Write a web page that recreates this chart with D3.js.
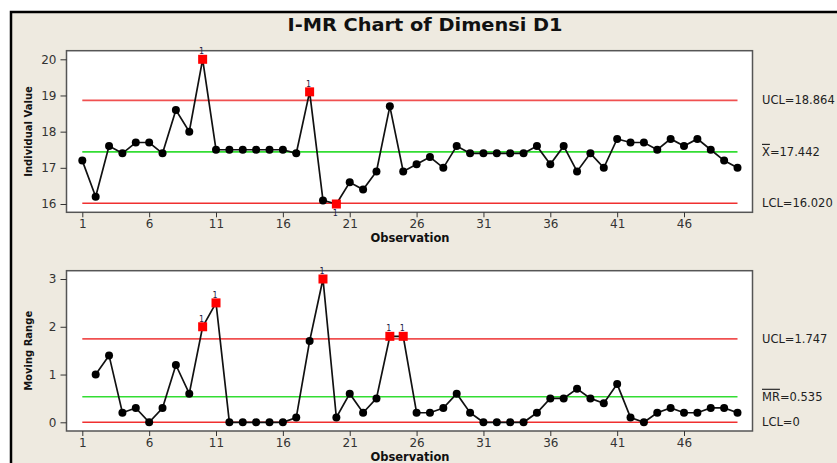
<!DOCTYPE html>
<html><head><meta charset="utf-8">
<script src="https://cdn.jsdelivr.net/npm/d3@7"></script>
<style>
html,body{margin:0;padding:0;background:#fff;}
svg{display:block;}
</style></head>
<body>
<script>
const observations = d3.range(1, 51);
const individualValues = [17.2,16.2,17.6,17.4,17.7,17.7,17.4,18.6,18.0,20.0,
  17.5,17.5,17.5,17.5,17.5,17.5,17.4,19.1,16.1,16.0,
  16.6,16.4,16.9,18.7,16.9,17.1,17.3,17.0,17.6,17.4,
  17.4,17.4,17.4,17.4,17.6,17.1,17.6,16.9,17.4,17.0,
  17.8,17.7,17.7,17.5,17.8,17.6,17.8,17.5,17.2,17.0];
const movingRanges = [null,1.0,1.4,0.2,0.3,0.0,0.3,1.2,0.6,2.0,
  2.5,0.0,0.0,0.0,0.0,0.0,0.1,1.7,3.0,0.1,
  0.6,0.2,0.5,1.8,1.8,0.2,0.2,0.3,0.6,0.2,
  0.0,0.0,0.0,0.0,0.2,0.5,0.5,0.7,0.5,0.4,
  0.8,0.1,0.0,0.2,0.3,0.2,0.2,0.3,0.3,0.2];
const iLimits = {ucl:18.864, center:17.442, lcl:16.020};
const mrLimits = {ucl:1.747, center:0.535, lcl:0};
const iFlagged = [10, 18, 20];
const iFlagBelow = [20];
const mrFlagged = [10, 11, 19, 24, 25];
const xTicks = [1,6,11,16,21,26,31,36,41,46];
const iTicks = [16,17,18,19,20];
const mrTicks = [0,1,2,3];

const W = 837, H = 463;
const svg = d3.select("body").append("svg").attr("width", W).attr("height", H);
const font = "Tahoma, 'DejaVu Sans', Verdana, sans-serif";

svg.append("rect").attr("x",0).attr("y",0).attr("width",W).attr("height",H).attr("fill","#ffffff");
svg.append("rect").attr("x",11).attr("y",12).attr("width",W).attr("height",H).attr("fill","#EEEAE0")
  .attr("stroke","#000").attr("stroke-width",2.5);

svg.append("text").attr("x",425).attr("y",31).attr("text-anchor","middle")
  .attr("font-family","'DejaVu Sans', sans-serif").attr("font-weight","bold").attr("font-size",18)
  .attr("textLength",275).attr("lengthAdjust","spacingAndGlyphs")
  .attr("fill","#111").text("I-MR Chart of Dimensi D1");

const x = d3.scaleLinear().domain([1,50]).range([82.3,737.5]);

function panel(cfg){
  const g = svg.append("g");
  const y = d3.scaleLinear().domain(cfg.domain).range(cfg.range);
  g.append("rect").attr("x",66.5).attr("y",cfg.top).attr("width",686).attr("height",cfg.bottom-cfg.top)
    .attr("fill","#fff").attr("stroke","#555").attr("stroke-width",1.5);
  const ya = g.append("g").attr("transform","translate(66.5,0)")
    .call(d3.axisLeft(y).tickValues(cfg.ticks).tickSize(6).tickPadding(4).tickFormat(d3.format("d")));
  ya.select(".domain").remove();
  ya.selectAll("line").attr("stroke","#333");
  ya.selectAll("text").attr("font-family",font).attr("font-size",12).attr("fill","#333");
  const xa = g.append("g").attr("transform",`translate(0,${cfg.bottom})`)
    .call(d3.axisBottom(x).tickValues(xTicks).tickSize(5).tickPadding(2).tickFormat(d3.format("d")));
  xa.select(".domain").remove();
  xa.selectAll("line").attr("stroke","#333");
  xa.selectAll("text").attr("font-family",font).attr("font-size",12).attr("fill","#333");
  g.append("text").attr("x",410).attr("y",cfg.bottom+30).attr("text-anchor","middle")
    .attr("font-family","'DejaVu Sans', sans-serif").attr("font-weight","bold").attr("font-size",11.5)
    .attr("fill","#111").text("Observation");
  g.append("text").attr("transform",`translate(32,${(cfg.top+cfg.bottom)/2}) rotate(-90)`)
    .attr("text-anchor","middle").attr("font-family","'DejaVu Sans', sans-serif").attr("font-weight","bold")
    .attr("font-size",10).attr("fill","#111").text(cfg.ylabel);
  const L = cfg.limits;
  [[L.ucl,"#F05050"],[L.center,"#33DD33"],[L.lcl,"#F03030"]].forEach(([v,c])=>{
    g.append("line").attr("x1",x(1)).attr("x2",x(50)).attr("y1",y(v)).attr("y2",y(v))
      .attr("stroke",c).attr("stroke-width",1.6);
  });
  const pts = observations.map((o,i)=>({o, v:cfg.values[i]})).filter(d=>d.v!==null);
  g.append("path").datum(pts).attr("fill","none").attr("stroke","#111").attr("stroke-width",1.7)
    .attr("d", d3.line().x(d=>x(d.o)).y(d=>y(d.v)));
  const normal = pts.filter(d=>!cfg.flagged.includes(d.o));
  g.selectAll("circle.pt").data(normal).enter().append("circle")
    .attr("cx",d=>x(d.o)).attr("cy",d=>y(d.v)).attr("r",4).attr("fill","#000");
  const flag = pts.filter(d=>cfg.flagged.includes(d.o));
  g.selectAll("rect.flag").data(flag).enter().append("rect")
    .attr("x",d=>x(d.o)-4.5).attr("y",d=>y(d.v)-4.5).attr("width",9).attr("height",9).attr("fill","#FF0000");
  g.selectAll("text.flag").data(flag).enter().append("text")
    .attr("x",d=>x(d.o)-1).attr("y",d=>(cfg.below||[]).includes(d.o)? y(d.v)+12 : y(d.v)-5)
    .attr("text-anchor","middle").attr("font-family",font).attr("font-size",8).attr("fill","#224")
    .text("1");
  const lab = (v, parts) => {
    const t = g.append("text").attr("x",762).attr("y",y(v)+4).attr("font-family",font)
      .attr("font-size",11.5).attr("fill","#222");
    parts.forEach(p=>{
      const ts = t.append("tspan").text(p.t);
      if(p.over) ts.attr("text-decoration","overline");
    });
  };
  cfg.labels.forEach(l=>lab(l.v, l.parts));
}

panel({domain:[16,20], range:[204,59.3], top:50.7, bottom:212.3, ticks:iTicks,
  values:individualValues, limits:iLimits, flagged:iFlagged, below:iFlagBelow, ylabel:"Individual Value",
  labels:[{v:iLimits.ucl, parts:[{t:"UCL="+iLimits.ucl.toFixed(3)}]},
          {v:iLimits.center, parts:[{t:"X",over:true},{t:"="+iLimits.center.toFixed(3)}]},
          {v:iLimits.lcl, parts:[{t:"LCL="+iLimits.lcl.toFixed(3)}]}]});

panel({domain:[0,3], range:[422.3,279], top:270.7, bottom:431, ticks:mrTicks,
  values:movingRanges, limits:mrLimits, flagged:mrFlagged, ylabel:"Moving Range",
  labels:[{v:mrLimits.ucl, parts:[{t:"UCL="+mrLimits.ucl.toFixed(3)}]},
          {v:mrLimits.center, parts:[{t:"MR",over:true},{t:"="+mrLimits.center.toFixed(3)}]},
          {v:mrLimits.lcl, parts:[{t:"LCL=0"}]}]});
</script>
</body></html>
